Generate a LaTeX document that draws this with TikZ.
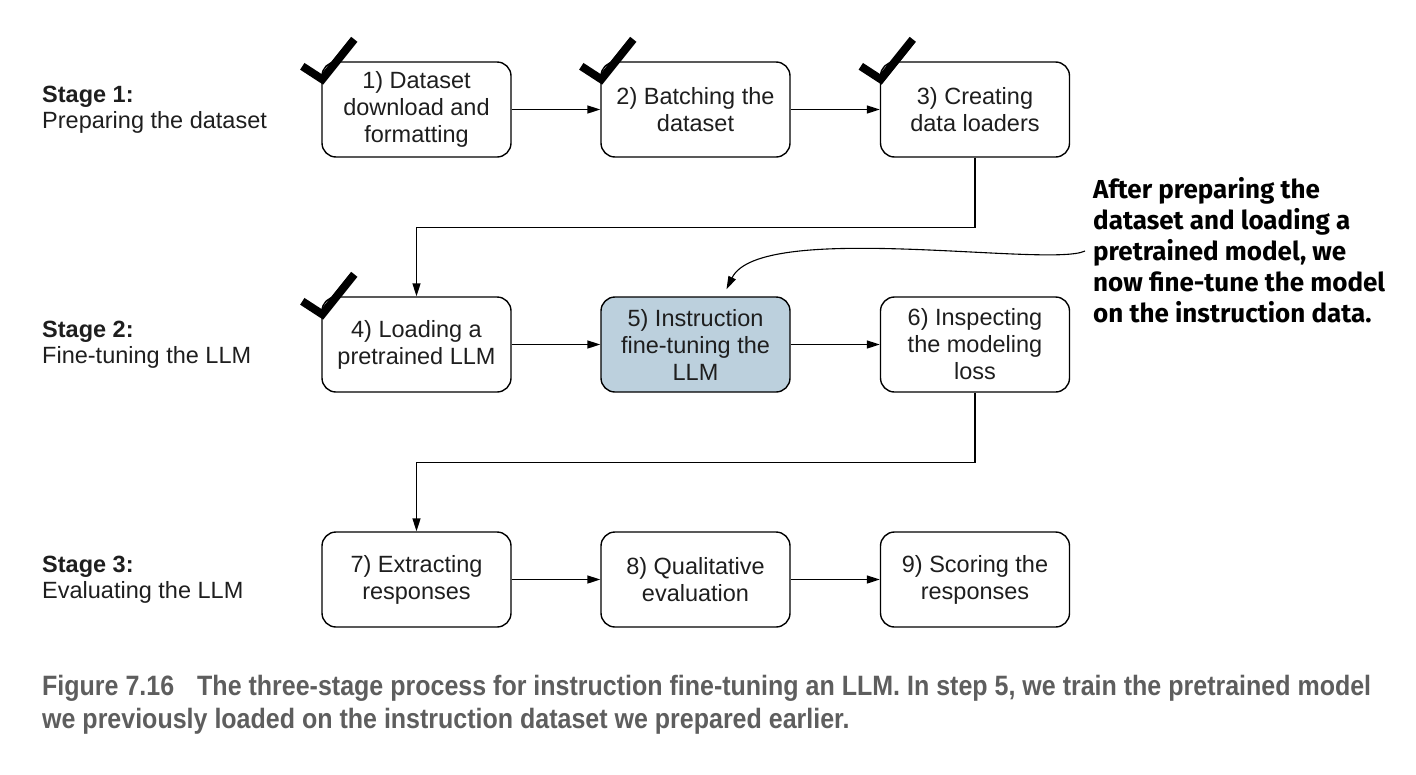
\documentclass[tikz,border=0pt]{standalone}
\usepackage{fontspec}
\setmainfont{Liberation Sans}
\newfontfamily\notefont{Fira Sans}
\newfontfamily\capfont{Liberation Sans}[FakeStretch=0.893]
\usetikzlibrary{arrows.meta,calc}
\definecolor{stepblue}{HTML}{BCD0DD}
\definecolor{capgray}{HTML}{5E5E5E}
\definecolor{boxtext}{HTML}{1E1E1E}
\newcommand{\donetick}[1]{\draw[line width=8pt] ($(#1.north west)+(-19,5)$) -- ($(#1.north west)+(1,18)$) -- ($(#1.north west)+(33,-22)$);}

\begin{document}
\begin{tikzpicture}[x=1pt,y=-1pt,
	stepbox/.style={draw, rounded corners=14pt, line width=1.4pt, minimum width=189pt, minimum height=95pt, inner sep=0pt,
		align=center, text=boxtext, font=\fontsize{23.5}{27}\selectfont},
	stage/.style={anchor=west, align=left, inner sep=0pt, text=boxtext, font=\fontsize{23.5}{26}\selectfont},
	flow/.style={line width=1.4pt, -{Triangle[length=13pt,width=8pt]}}]
	\useasboundingbox (0,0) rectangle (1416,774);
	
	\node[stage] (s1) at (42,109.5) {\textbf{Stage 1:}\\Preparing the dataset};
	\node[stage] (s2) at (42,344.5) {\textbf{Stage 2:}\\Fine-tuning the LLM};
	\node[stage] (s3) at (42,579.5) {\textbf{Stage 3:}\\Evaluating the LLM};
	
	\node[stepbox] (b1) at (416.5,109.5) {1) Dataset\\download and\\formatting};
	\node[stepbox] (b2) at (695.5,109.5) {2) Batching the\\dataset};
	\node[stepbox] (b3) at (975,109.5) {3) Creating\\data loaders};
	\node[stepbox] (b4) at (416.5,344.5) {4) Loading a\\pretrained LLM};
	\node[stepbox, fill=stepblue] (b5) at (695.5,344.5) {5) Instruction\\fine-tuning the\\LLM};
	\node[stepbox] (b6) at (975,344.5) {6) Inspecting\\the modeling\\loss};
	\node[stepbox] (b7) at (416.5,579.5) {7) Extracting\\responses};
	\node[stepbox] (b8) at (695.5,579.5) {8) Qualitative\\evaluation};
	\node[stepbox] (b9) at (975,579.5) {9) Scoring the\\responses};
	
	\donetick{b1} \donetick{b2} \donetick{b3} \donetick{b4}
	
	\draw[flow] (b1) -- (b2); \draw[flow] (b2) -- (b3);
	\draw[flow] (b3.south) -- ++(0,70) -| (b4.north);
	\draw[flow] (b4) -- (b5); \draw[flow] (b5) -- (b6);
	\draw[flow] (b6.south) -- ++(0,70) -| (b7.north);
	\draw[flow] (b7) -- (b8); \draw[flow] (b8) -- (b9);
	
	\node[anchor=west, align=left, inner sep=0pt, font=\notefont\bfseries\fontsize{26}{31}\selectfont] (note) at (1093,250)
		{After preparing the\\dataset and loading a\\pretrained model, we\\now fine-tune the model\\on the instruction data.};
	\draw[line width=1.1pt, -{Triangle[length=13pt,width=8pt]}] ($(note.west)+(-8,1)$)
		.. controls (1050,268) and (760,220) .. ($(b5.north)+(31,-7)$);
	
	\node[anchor=base west, inner sep=0pt, text=capgray, font=\capfont\bfseries\fontsize{28}{33}\selectfont] (cap1) at (42,695)
		{Figure 7.16\hspace{23pt}The three-stage process for instruction fine-tuning an LLM. In step 5, we train the pretrained model};
	\node[anchor=base west, inner sep=0pt, text=capgray, font=\capfont\bfseries\fontsize{28}{33}\selectfont] (cap2) at (42,728)
		{we previously loaded on the instruction dataset we prepared earlier.};
\end{tikzpicture}
\end{document}
